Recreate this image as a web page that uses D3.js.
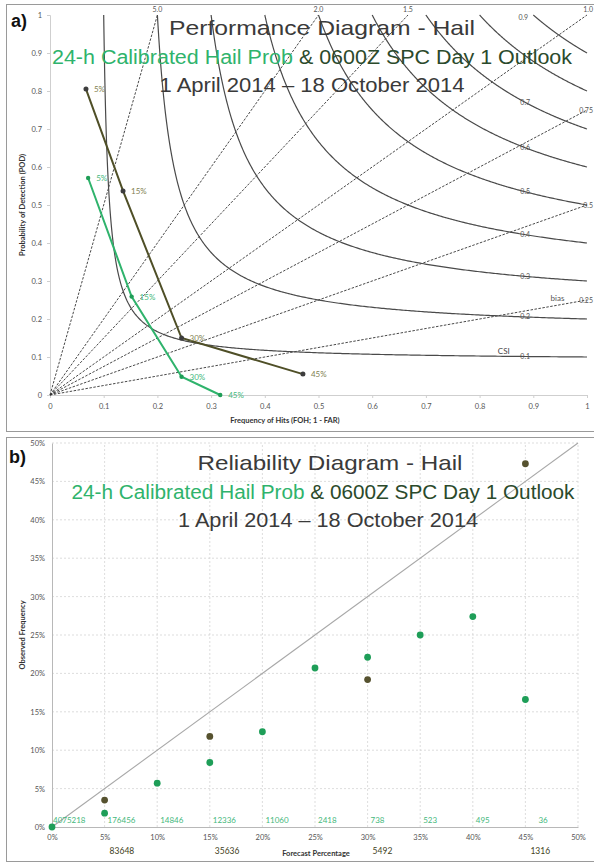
<!DOCTYPE html>
<html>
<head>
<meta charset="utf-8">
<script src="https://cdn.jsdelivr.net/npm/d3@7"></script>
<style>
  html, body { margin: 0; padding: 0; background: #fff; }
  svg { display: block; }
</style>
</head>
<body>
<svg id="chart" width="594" height="864"></svg>
<script>
// ---------- DATA ----------
// Performance diagram
const perfCategories = ["5%", "15%", "30%", "45%"];
const spcSR  = [0.067, 0.136, 0.245, 0.471];
const spcPOD = [0.805, 0.537, 0.150, 0.055];
const calSR  = [0.071, 0.152, 0.245, 0.317];
const calPOD = [0.571, 0.259, 0.048, 0.000];
const csiLevels  = [0.1, 0.2, 0.3, 0.4, 0.5, 0.6, 0.7, 0.8, 0.9];
const csiShownLabels = [0.1, 0.2, 0.3, 0.4, 0.5, 0.6, 0.7, 0.9];
const biasLevels = [0.25, 0.5, 0.75, 1.0, 1.5, 2.0, 5.0];
const biasLabels = ["0.25", "0.5", "0.75", "1.0", "1.5", "2.0", "5.0"];
const perfTicks = [0, 0.1, 0.2, 0.3, 0.4, 0.5, 0.6, 0.7, 0.8, 0.9, 1];

// Reliability diagram
const relCategories = [0, 5, 10, 15, 20, 25, 30, 35, 40, 45];
const calObs    = [0, 1.8, 5.7, 8.4, 12.4, 20.7, 22.1, 25.0, 27.4, 16.6];
const calCounts = ["4075218", "176456", "14846", "12336", "11060", "2418", "738", "523", "495", "36"];
const spcCategories = [5, 15, 30, 45];
const spcObs    = [3.5, 11.8, 19.2, 47.3];
const spcCounts = ["83648", "35636", "5492", "1316"];
const relTicks = [0, 5, 10, 15, 20, 25, 30, 35, 40, 45, 50];

// ---------- STYLE ----------
const GREEN = "#2fb36c", GREEN_TXT = "#45b87c", OLIVE = "#4f4f27", OLIVE_TXT = "#7f7f52";
const DARKGREEN = "#2b4a2b", TITLE = "#3a3a3a";
const SMALL = "Lato, 'Open Sans', sans-serif";
const TITLEF = "'Liberation Sans', Arial, sans-serif";

const svg = d3.select("#chart");

// panel frames
svg.append("rect").attr("x", 6.5).attr("y", 4.5).attr("width", 600).attr("height", 427)
  .attr("fill", "none").attr("stroke", "#9a9a9a").attr("stroke-width", 1);
svg.append("rect").attr("x", 6.5).attr("y", 437.5).attr("width", 600).attr("height", 424)
  .attr("fill", "none").attr("stroke", "#9a9a9a").attr("stroke-width", 1);

// ================= PANEL A: PERFORMANCE =================
const px = d3.scaleLinear().domain([0, 1]).range([50, 587]);
const py = d3.scaleLinear().domain([0, 1]).range([395, 15]);
const ga = svg.append("g");

const fmt = d => d === 0 ? "0" : d === 1 ? "1" : d3.format(".1f")(d);

// axes
const ax = ga.append("g").attr("transform", `translate(0,${py(0)})`)
  .call(d3.axisBottom(px).tickValues(perfTicks).tickFormat(fmt).tickSize(3).tickPadding(6));
const ay = ga.append("g").attr("transform", `translate(${px(0)},0)`)
  .call(d3.axisLeft(py).tickValues(perfTicks).tickFormat(fmt).tickSize(3).tickPadding(5));
[ax, ay].forEach(a => {
  a.selectAll("path,line").attr("stroke", "#cfcfcf");
  a.selectAll("text").attr("fill", "#555").attr("font-size", 7.5).attr("font-family", SMALL);
});

// bias lines (dashed)
ga.selectAll(".bias").data(biasLevels).enter().append("line")
  .attr("x1", px(0)).attr("y1", py(0))
  .attr("x2", b => b >= 1 ? px(1 / b) : px(1))
  .attr("y2", b => b >= 1 ? py(1) : py(b))
  .attr("stroke", "#333").attr("stroke-width", 0.9).attr("stroke-dasharray", "2.5,1.5");

ga.selectAll(".biaslab").data(biasLevels).enter().append("text")
  .attr("x", b => b >= 1 ? (b === 1 ? 593 : px(1 / b)) : 593)
  .attr("y", b => b >= 1 ? py(1) - 3 : py(b) + 3)
  .attr("text-anchor", b => b >= 1 ? (b === 1 ? "end" : "middle") : "end")
  .attr("font-size", 7).attr("font-family", SMALL).attr("fill", "#555")
  .text((b, i) => biasLabels[i]);
ga.append("text").attr("x", px(0.945)).attr("y", py(0.25) + 1).attr("text-anchor", "middle")
  .attr("font-size", 8).attr("font-family", SMALL).attr("fill", "#555").text("bias");

// CSI curves
const csiLine = d3.line().x(d => px(d[0])).y(d => py(d[1])).curve(d3.curveLinear);
csiLevels.forEach(c => {
  const pts = d3.range(0, 301).map(i => {
    const sr = c + (1 - c) * Math.pow(i / 300, 1.6);
    const pod = 1 / (1 / c + 1 - 1 / sr);
    return [sr, Math.min(1, pod)];
  });
  ga.append("path").attr("d", csiLine(pts)).attr("fill", "none")
    .attr("stroke", "#4a4a4a").attr("stroke-width", 1.2);
});
csiShownLabels.forEach(c => {
  const sr = 0.885, pod = 1 / (1 / c + 1 - 1 / sr);
  const xx = pod <= 1 ? px(sr) : px(c) - 10;
  const yy = pod <= 1 ? py(pod) + 2.5 : py(1) + 5;
  ga.append("text").attr("x", xx).attr("y", yy).attr("text-anchor", "middle")
    .attr("font-size", 7).attr("font-family", SMALL).attr("fill", "#555").text(c.toFixed(1));
});
ga.append("text").attr("x", px(0.845)).attr("y", py(0.1) - 3).attr("text-anchor", "middle")
  .attr("font-size", 8).attr("font-family", SMALL).attr("fill", "#444").text("CSI");

// series
const sLine = d3.line().x(d => px(d[0])).y(d => py(d[1]));
const spcPts = spcSR.map((s, i) => [s, spcPOD[i]]);
const calPts = calSR.map((s, i) => [s, calPOD[i]]);
ga.append("path").attr("d", sLine(spcPts)).attr("fill", "none").attr("stroke", OLIVE).attr("stroke-width", 2);
ga.append("path").attr("d", sLine(calPts)).attr("fill", "none").attr("stroke", GREEN).attr("stroke-width", 2);
ga.selectAll(".spcpt").data(spcPts).enter().append("circle")
  .attr("cx", d => px(d[0])).attr("cy", d => py(d[1])).attr("r", 2.5).attr("fill", "#3d3d3d");
ga.selectAll(".calpt").data(calPts).enter().append("circle")
  .attr("cx", d => px(d[0])).attr("cy", d => py(d[1])).attr("r", 2.2).attr("fill", "#1f9e57");
ga.selectAll(".spclab").data(spcPts).enter().append("text")
  .attr("x", d => px(d[0]) + 8).attr("y", d => py(d[1]) + 3)
  .attr("font-size", 8).attr("font-family", SMALL).attr("fill", OLIVE_TXT)
  .text((d, i) => perfCategories[i]);
ga.selectAll(".callab").data(calPts).enter().append("text")
  .attr("x", d => px(d[0]) + 8).attr("y", d => py(d[1]) + 3)
  .attr("font-size", 8).attr("font-family", SMALL).attr("fill", GREEN_TXT)
  .text((d, i) => perfCategories[i]);

// axis titles
ga.append("text").attr("transform", `translate(25,${py(0.5)}) rotate(-90)`).attr("text-anchor", "middle")
  .attr("font-size", 7.5).attr("font-weight", "bold").attr("font-family", SMALL).attr("fill", "#333")
  .text("Probability of Detection (POD)");
ga.append("text").attr("x", 285).attr("y", 423).attr("text-anchor", "middle")
  .attr("font-size", 7.5).attr("font-weight", "bold").attr("font-family", SMALL).attr("fill", "#333")
  .text("Frequency of Hits (FOH; 1 - FAR)");

// titles
function titles(g, y0, t1, x1, w1, x2, w2, x3, w3) {
  g.append("text").attr("x", x1).attr("y", y0).attr("text-anchor", "middle")
    .attr("font-size", 21).attr("font-family", TITLEF).attr("fill", TITLE)
    .attr("textLength", w1).attr("lengthAdjust", "spacingAndGlyphs").text(t1);
  const t2 = g.append("text").attr("x", x2).attr("y", y0 + 29).attr("text-anchor", "middle")
    .attr("font-size", 19.5).attr("font-family", TITLEF)
    .attr("textLength", w2).attr("lengthAdjust", "spacingAndGlyphs");
  t2.append("tspan").attr("fill", GREEN).text("24-h Calibrated Hail Prob");
  t2.append("tspan").attr("fill", DARKGREEN).text(" & 0600Z SPC Day 1 Outlook");
  g.append("text").attr("x", x3).attr("y", y0 + 57).attr("text-anchor", "middle")
    .attr("font-size", 19.5).attr("font-family", TITLEF).attr("fill", TITLE)
    .attr("textLength", w3).attr("lengthAdjust", "spacingAndGlyphs")
    .text("1 April 2014  \u2013  18 October 2014");
}
titles(ga, 35, "Performance Diagram - Hail", 322, 306, 312, 520, 312, 305);
ga.append("text").attr("x", 11).attr("y", 27).attr("font-size", 18).attr("font-weight", "bold")
  .attr("font-family", TITLEF).attr("fill", "#111").text("a)");

// ================= PANEL B: RELIABILITY =================
const rx = d3.scaleLinear().domain([0, 50]).range([52, 578]);
const ry = d3.scaleLinear().domain([0, 50]).range([827, 443]);
const gb = svg.append("g");

// grid
gb.selectAll(".vg").data(relTicks.slice(1)).enter().append("line")
  .attr("x1", d => rx(d)).attr("x2", d => rx(d)).attr("y1", ry(0)).attr("y2", ry(50))
  .attr("stroke", "#d4d4d4").attr("stroke-width", 0.8).attr("stroke-dasharray", "2,2");
gb.selectAll(".hg").data(relTicks.slice(1)).enter().append("line")
  .attr("x1", rx(0)).attr("x2", rx(50)).attr("y1", d => ry(d)).attr("y2", d => ry(d))
  .attr("stroke", "#d4d4d4").attr("stroke-width", 0.8).attr("stroke-dasharray", "2,2");

const pct = d => d + "%";
const bx = gb.append("g").attr("transform", `translate(0,${ry(0)})`)
  .call(d3.axisBottom(rx).tickValues(relTicks).tickFormat(pct).tickSize(0).tickPadding(8));
const by = gb.append("g").attr("transform", `translate(${rx(0)},0)`)
  .call(d3.axisLeft(ry).tickValues(relTicks).tickFormat(pct).tickSize(0).tickPadding(7));
[bx, by].forEach(a => {
  a.selectAll("path").attr("stroke", "#b8b8b8");
  a.selectAll("text").attr("fill", "#555").attr("font-size", 7.5).attr("font-family", SMALL);
});

// diagonal
gb.append("line").attr("x1", rx(0)).attr("y1", ry(0)).attr("x2", rx(50)).attr("y2", ry(50))
  .attr("stroke", "#a8a8a8").attr("stroke-width", 1.1);

// points
gb.selectAll(".cp").data(relCategories).enter().append("circle")
  .attr("cx", d => rx(d)).attr("cy", (d, i) => ry(calObs[i])).attr("r", 3.4).attr("fill", "#1e9e58");
gb.selectAll(".sp").data(spcCategories).enter().append("circle")
  .attr("cx", d => rx(d)).attr("cy", (d, i) => ry(spcObs[i])).attr("r", 3.4).attr("fill", "#56522f");

// counts
gb.selectAll(".cc").data(relCategories).enter().append("text")
  .attr("x", (d, i) => rx(d) + (i === 9 ? 13 : i === 0 ? 1 : 3)).attr("y", ry(0) - 4)
  .attr("font-size", 8).attr("font-family", SMALL).attr("fill", GREEN_TXT)
  .text((d, i) => calCounts[i]);
gb.selectAll(".sc").data(spcCategories).enter().append("text")
  .attr("x", d => rx(d) + 5).attr("y", 854)
  .attr("font-size", 8.5).attr("font-family", SMALL).attr("fill", "#3f3f22")
  .text((d, i) => spcCounts[i]);

// axis titles
gb.append("text").attr("transform", `translate(25,${ry(25)}) rotate(-90)`).attr("text-anchor", "middle")
  .attr("font-size", 7.5).attr("font-weight", "bold").attr("font-family", SMALL).attr("fill", "#333")
  .text("Observed Frequency");
gb.append("text").attr("x", 316).attr("y", 856).attr("text-anchor", "middle")
  .attr("font-size", 7.5).attr("font-weight", "bold").attr("font-family", SMALL).attr("fill", "#333")
  .text("Forecast Percentage");

titles(gb, 470, "Reliability Diagram - Hail", 330, 265, 323, 503, 328, 300);
gb.append("text").attr("x", 9).attr("y", 463).attr("font-size", 18).attr("font-weight", "bold")
  .attr("font-family", TITLEF).attr("fill", "#111").text("b)");
</script>
</body>
</html>
